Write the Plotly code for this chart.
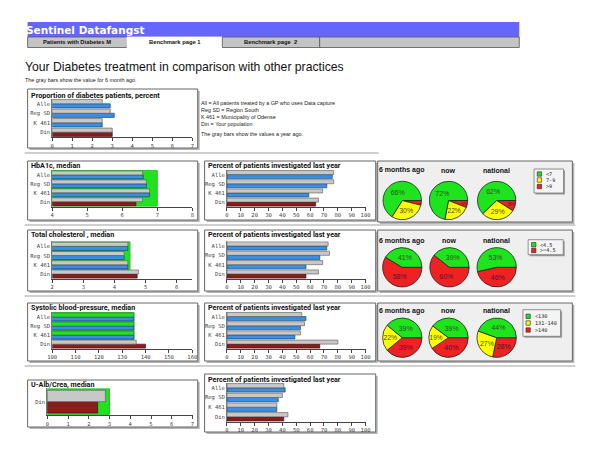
import plotly.graph_objects as go

W, H = 600, 459

# ---------------- data ----------------
CATS = ["Alle", "Reg SD", "K 461", "Din"]

PROP_PREV = [2.5, 2.9, 2.5, 3.0]
PROP_NOW = [2.9, 3.1, 2.5, 3.0]

HBA1C_PREV = [6.58, 6.69, 6.78, 6.58]
HBA1C_NOW = [6.60, 6.69, 6.78, 6.39]
HBA1C_INV_PREV = [77, 77, 69, 66]
HBA1C_INV_NOW = [76, 72, 59, 64]

CHOL_PREV = [4.43, 4.31, 4.43, 4.77]
CHOL_NOW = [4.43, 4.31, 4.43, 4.73]
CHOL_INV_PREV = [73, 74, 69, 66]
CHOL_INV_NOW = [72, 67, 57, 57]

BP_PREV = [135, 135, 135, 136]
BP_NOW = [135, 135, 135, 140]
BP_INV_PREV = [54, 56, 53, 80]
BP_INV_NOW = [57, 53, 49, 67]

UALB_CATS = ["Din"]
UALB_PREV = [2.8]
UALB_NOW = [2.43]
UALB_INV_PREV = [41, 40, 36, 44]
UALB_INV_NOW = [42, 37, 36, 41]

PIE_TITLES = ["6 months ago", "now", "national"]
HBA1C_PIE_LABELS = ["<7", "7-9", ">9"]
HBA1C_PIES = [[66, 30, 4], [72, 22, 6], [62, 29, 9]]
CHOL_PIE_LABELS = ["<4.5", ">=4.5"]
CHOL_PIES = [[41, 58], [39, 60], [53, 46]]
BP_PIE_LABELS = ["<130", "131-140", ">140"]
BP_PIES = [[39, 22, 39], [39, 19, 40], [44, 27, 28]]

LEGEND_TEXT = ["All = All patients treated by a GP who uses Data capture",
               "Reg SD = Region South",
               "K 461 = Municipality of Odense",
               "Din = Your population"]

# ---------------- helpers ----------------
def fx(x):
    return x / W

def fy(y):
    return 1 - y / H

GREEN = "#1ee41e"
YELLOW = "#ffff00"
RED = "#ee2222"
GRAY = "#c8c8c8"
BLUE = "#3a8fe2"
DARKRED = "#8b1c1c"
TICKFONT = dict(family="DejaVu Sans Mono", size=5.5, color="#444")
LEFT_FIX = 5  # annotation text renders a few px right of its anchor

fig = go.Figure()
shapes = []
annos = []

def box(x0, y0, x1, y1, fill="white", line="#666", shadow=True):
    if shadow:
        shapes.append(dict(type="rect", xref="paper", yref="paper", layer="below",
                           x0=fx(x0 + 2), x1=fx(x1 + 2), y0=fy(y1 + 2), y1=fy(y0 + 2),
                           fillcolor="#b5b5b5", line=dict(width=0)))
    shapes.append(dict(type="rect", xref="paper", yref="paper", layer="below",
                       x0=fx(x0), x1=fx(x1), y0=fy(y1), y1=fy(y0),
                       fillcolor=fill, line=dict(color=line, width=1)))

def text(x, y, s, size=6, bold=False, color="#111", family="Liberation Sans",
         xanchor="left", fix=True):
    if xanchor == "left" and fix:
        x = x - LEFT_FIX
    annos.append(dict(x=fx(x), y=fy(y), xref="paper", yref="paper", text=(f"<b>{s}</b>" if bold else s),
                      showarrow=False, xanchor=xanchor, yanchor="middle", borderpad=0,
                      font=dict(size=size, color=color, family=family)))

axis_n = [0]

def bar_chart(cats, prev, now, rng, tickvals, px_, py_, target=None, prev_colors=None):
    axis_n[0] += 1
    n = axis_n[0]
    xa = "x" if n == 1 else f"x{n}"
    ya = "y" if n == 1 else f"y{n}"
    cols_now = [DARKRED if c == "Din" else BLUE for c in cats]
    lines_now = ["#3a0808" if c == "Din" else "#0d3560" for c in cats]
    pc = prev_colors if prev_colors else [GRAY] * len(cats)
    fig.add_trace(go.Bar(y=cats, x=now, orientation="h", xaxis=xa, yaxis=ya,
                         marker=dict(color=cols_now, line=dict(color=lines_now, width=0.6)),
                         showlegend=False, hoverinfo="x"))
    fig.add_trace(go.Bar(y=cats, x=prev, orientation="h", xaxis=xa, yaxis=ya,
                         marker=dict(color=pc, line=dict(color="#555", width=0.6)),
                         showlegend=False, hoverinfo="x"))
    key = "" if n == 1 else str(n)
    fig.layout["xaxis" + key] = dict(domain=[fx(px_[0]), fx(px_[1])], anchor=ya, range=rng,
                                     tickvals=tickvals, ticks="outside", ticklen=3,
                                     tickcolor="#444", showline=True, linecolor="#444",
                                     linewidth=1, showgrid=False, zeroline=False,
                                     tickfont=TICKFONT, fixedrange=True)
    fig.layout["yaxis" + key] = dict(domain=[fy(py_[1]), fy(py_[0])], anchor=xa, type="category",
                                     categoryorder="array", categoryarray=list(reversed(cats)),
                                     showline=True, linecolor="#777", linewidth=1,
                                     ticks="", showgrid=False, tickfont=TICKFONT,
                                     fixedrange=True)
    if target:
        shapes.append(dict(type="rect", xref=xa, yref=ya, layer="below",
                           x0=target[0], x1=target[1], y0=target[2], y1=target[3],
                           fillcolor=GREEN, line=dict(color="#14b814", width=0.8)))

def pies(values_list, labels, centers_x, cy, r, title_y, colors, textcolors):
    # slices run counterclockwise from 3 o'clock; drawn clockwise in reverse order
    for vals, cx, t in zip(values_list, centers_x, PIE_TITLES):
        fig.add_trace(go.Pie(values=vals[::-1], labels=labels[::-1], sort=False,
                             direction="clockwise", rotation=90,
                             domain=dict(x=[fx(cx - r), fx(cx + r)], y=[fy(cy + r), fy(cy - r)]),
                             marker=dict(colors=colors[::-1], line=dict(color="#222", width=0.8)),
                             texttemplate="%{value}%", textposition="inside",
                             insidetextorientation="horizontal",
                             textfont=dict(size=7, color=textcolors[::-1], family="Liberation Sans"),
                             showlegend=False, hoverinfo="label+value"))
        text(cx, title_y, t, size=7, bold=True, family="Liberation Sans", xanchor="center")

def legend(labels, colors, bx0, by0, bx1, by1, rows_y, sw_x, lab_x):
    shapes.append(dict(type="rect", xref="paper", yref="paper", layer="below",
                       x0=fx(bx0 + 1.5), x1=fx(bx1 + 1.5), y0=fy(by1 + 1.5), y1=fy(by0 + 1.5),
                       fillcolor="#9a9a9a", line=dict(width=0)))
    shapes.append(dict(type="rect", xref="paper", yref="paper", layer="below",
                       x0=fx(bx0), x1=fx(bx1), y0=fy(by1), y1=fy(by0),
                       fillcolor="#f4f4f4", line=dict(color="#777", width=0.8)))
    for lab, col, ry in zip(labels, colors, rows_y):
        shapes.append(dict(type="rect", xref="paper", yref="paper", layer="above",
                           x0=fx(sw_x - 2.2), x1=fx(sw_x + 2.2), y0=fy(ry + 2.2), y1=fy(ry - 2.2),
                           fillcolor=col, line=dict(color="#222", width=0.6)))
        text(lab_x, ry, lab, size=5.2, family="DejaVu Sans Mono", color="#222", fix=False)

# ---------------- header ----------------
shapes.append(dict(type="rect", xref="paper", yref="paper", x0=fx(23), x1=fx(523),
                   y0=fy(37), y1=fy(22), fillcolor="#6666ff", line=dict(width=0), layer="below"))
text(25, 29.5, "Sentinel Datafangst", size=10.5, bold=True, color="white", family="DejaVu Sans")
tabs = [(23, 124, "#c4c4c4", "Patients with Diabetes M"),
        (124, 221, "white", "Benchmark page 1"),
        (221, 320, "#c4c4c4", "Benchmark page  2"),
        (320, 523, "#c4c4c4", "")]
for x0, x1, col, lab in tabs:
    shapes.append(dict(type="rect", xref="paper", yref="paper", x0=fx(x0), x1=fx(x1),
                       y0=fy(47.5), y1=fy(37), fillcolor=col, layer="below",
                       line=dict(color="#555" if col != "white" else "white", width=0.8)))
    if lab:
        text((x0 + x1) / 2, 42.3, lab, size=5.8, bold=True, color="#111", xanchor="center")

text(24, 67, "Your Diabetes treatment in comparison with other practices", size=12.2,
     family="Liberation Sans", color="#111")
text(24, 80, "The gray bars show the value for 6 month ago.", size=5.4, color="#222")

# separators
for sy, sx1 in [(153, 380), (225, 580), (296, 580), (366, 580)]:
    shapes.append(dict(type="line", xref="paper", yref="paper", x0=fx(20), x1=fx(sx1),
                       y0=fy(sy), y1=fy(sy), line=dict(color="#cfcfcf", width=2), layer="below"))

# ---------------- panels ----------------
# proportion
box(23, 89, 196, 148)
text(30, 95, "Proportion of diabetes patients, percent", bold=True, size=7.2, family="Roboto")
bar_chart(CATS, PROP_PREV, PROP_NOW, [0, 7], list(range(0, 8)), (48, 190.5), (99, 137))
for i, s in enumerate(LEGEND_TEXT):
    text(203, 103 + 7 * i, s, size=5.4, color="#222")
text(203, 134, "The gray bars show the values a year ago.", size=5.4, color="#222")

# HbA1c row
box(23, 161, 196, 220)
text(30, 165.5, "HbA1c, median", bold=True, size=7.2, family="Roboto")
bar_chart(CATS, HBA1C_PREV, HBA1C_NOW, [4, 8], [4, 5, 6, 7, 8], (48, 190.5), (170, 206.7),
          target=(4, 7, -0.5, 3.5))
box(203, 161, 377, 220)
text(210, 165.5, "Percent of patients investigated last year", bold=True, size=7.2, family="Roboto")
bar_chart(CATS, HBA1C_INV_PREV, HBA1C_INV_NOW, [0, 100], list(range(0, 101, 10)), (225.7, 366.7), (170, 206.7))
box(379, 161, 577, 222, fill="#efefef")
pies(HBA1C_PIES, HBA1C_PIE_LABELS, [404, 451, 500], 200.5, 19.5, 170,
     [GREEN, YELLOW, RED], ["#2f4f1f", "#4a4a10", "#5a1030"])
legend(HBA1C_PIE_LABELS, [GREEN, YELLOW, RED], 538, 169, 568, 193, [174, 180, 186.5], 543.5, 549)

# Cholesterol row
box(23, 230, 196, 291)
text(30, 234.5, "Total cholesterol , median", bold=True, size=7.2, family="Roboto")
bar_chart(CATS, CHOL_PREV, CHOL_NOW, [2, 6.5], [2, 3, 4, 5, 6], (48, 190.5), (241.3, 278.7),
          target=(2, 4.5, 0.5, 3.5))
box(203, 230, 377, 291)
text(210, 234.5, "Percent of patients investigated last year", bold=True, size=7.2, family="Roboto")
bar_chart(CATS, CHOL_INV_PREV, CHOL_INV_NOW, [0, 100], list(range(0, 101, 10)), (225.7, 366.7), (241.3, 278.7))
box(379, 230, 577, 291, fill="#efefef")
pies(CHOL_PIES, CHOL_PIE_LABELS, [404, 452, 500], 267.3, 20, 240.7,
     [GREEN, RED], ["#2f4f1f", "#5a1030"])
legend(CHOL_PIE_LABELS, [GREEN, RED], 532, 239.7, 567.7, 254.7, [244.7, 250.5], 537.7, 543)

# Blood pressure row
box(23, 303, 196, 361)
text(30, 307.5, "Systolic blood-pressure, median", bold=True, size=7.2, family="Roboto")
bar_chart(CATS, BP_PREV, BP_NOW, [100, 160], list(range(100, 161, 10)), (48, 190.5), (312, 348.7),
          target=(100, 135, 0.5, 3.5), prev_colors=[GREEN, GREEN, GREEN, GRAY])
box(203, 303, 377, 361)
text(210, 307.5, "Percent of patients investigated last year", bold=True, size=7.2, family="Roboto")
bar_chart(CATS, BP_INV_PREV, BP_INV_NOW, [0, 100], list(range(0, 101, 10)), (225.7, 366.7), (312, 348.7))
box(379, 303, 577, 361, fill="#efefef")
pies(BP_PIES, BP_PIE_LABELS, [404, 451, 500], 337.7, 20, 310.7,
     [GREEN, YELLOW, RED], ["#2f4f1f", "#4a4a10", "#5a1030"])
legend(BP_PIE_LABELS, [GREEN, YELLOW, RED], 526.7, 309.7, 565, 336.3, [316.3, 323, 330], 532, 537.5)

# U-Alb row
box(23, 380, 196, 427)
text(30, 384.5, "U-Alb/Crea, median", bold=True, size=7.2, family="Roboto")
bar_chart(UALB_CATS, UALB_PREV, UALB_NOW, [0, 7], list(range(0, 8)), (43, 190.7), (388.3, 415),
          target=(0, 3, -0.5, 0.5))
box(203, 374, 377, 432)
text(210, 379, "Percent of patients investigated last year", bold=True, size=7.2, family="Roboto")
bar_chart(CATS, UALB_INV_PREV, UALB_INV_NOW, [0, 100], list(range(0, 101, 10)), (225.7, 366.7), (383, 421.7))

fig.update_layout(width=W, height=H, margin=dict(l=0, r=0, t=0, b=0),
                  paper_bgcolor="white", plot_bgcolor="rgba(0,0,0,0)",
                  barmode="group", bargap=0.12, bargroupgap=0.0,
                  shapes=shapes, annotations=annos, showlegend=False)

fig.write_html("out.html", config={"displayModeBar": False},
               post_script="document.body.style.margin='0';")
